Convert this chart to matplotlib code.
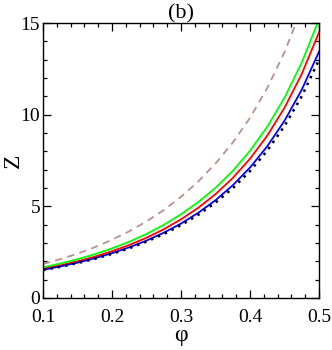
import matplotlib
matplotlib.use("Agg")
import matplotlib.pyplot as plt
from matplotlib.ticker import MultipleLocator

# Z(phi) curves
phi = [0.100, 0.125, 0.150, 0.175, 0.200, 0.225, 0.250, 0.275, 0.300,
       0.325, 0.350, 0.375, 0.400, 0.425, 0.450, 0.475, 0.500]

z_dotted = [1.521, 1.700, 1.904, 2.138, 2.406, 2.716, 3.074, 3.490, 3.974,
            4.540, 5.206, 5.992, 6.926, 8.042, 9.385, 11.012, 13.000]
z_blue = [1.536, 1.719, 1.928, 2.168, 2.445, 2.764, 3.132, 3.561, 4.061,
          4.647, 5.336, 6.151, 7.120, 8.279, 9.676, 11.370, 13.442]
z_red = [1.582, 1.776, 1.999, 2.255, 2.551, 2.893, 3.289, 3.751, 4.292,
         4.923, 5.668, 6.550, 7.601, 8.861, 10.382, 12.230, 14.495]
z_green = [1.673, 1.880, 2.118, 2.391, 2.707, 3.072, 3.497, 3.991, 4.570,
           5.232, 6.013, 6.936, 8.034, 9.349, 10.933, 12.856, 15.210]
# dashed curve leaves the frame before phi = 0.5
phi_dashed = phi[:16]
z_dashed = [1.856, 2.116, 2.418, 2.768, 3.176, 3.639, 4.181, 4.798, 5.524,
            6.356, 7.340, 8.479, 9.835, 11.460, 13.420, 15.802]

plt.rcParams['font.family'] = ['Liberation Serif', 'DejaVu Serif']

fig = plt.figure(figsize=(3.32, 3.5), dpi=100)
ax = fig.add_axes([0.1295, 0.1486, 0.8315, 0.7854])

ax.plot(phi_dashed, z_dashed, color='#bc8f8f', lw=1.3, dashes=(4, 3))
ax.plot(phi, z_green, color='#00ff00', lw=1.3)
ax.plot(phi, z_red, color='#ff0000', lw=1.3)
ax.plot(phi, z_blue, color='#0000ff', lw=1.3)
ax.plot(phi, z_dotted, color='black', lw=1.8, linestyle=(0, (1, 2)))

ax.set_xlim(0.1, 0.5)
ax.set_ylim(0, 15)
ax.xaxis.set_major_locator(MultipleLocator(0.1))
ax.xaxis.set_minor_locator(MultipleLocator(0.02))
ax.yaxis.set_major_locator(MultipleLocator(5))
ax.yaxis.set_minor_locator(MultipleLocator(1))
ax.set_xticks([0.1, 0.2, 0.3, 0.4, 0.5])
ax.set_xticklabels(['0.1', '0.2', '0.3', '0.4', '0.5'])

ax.tick_params(which='both', direction='in', top=True, right=True,
               labelsize=14, width=0.9)
ax.tick_params(axis='x', pad=8)
ax.tick_params(axis='y', pad=2)
ax.tick_params(which='major', length=6)
ax.tick_params(which='minor', length=3)
for s in ax.spines.values():
    s.set_linewidth(1.0)

ax.set_xlabel('φ', fontsize=17, labelpad=-1)
ax.set_ylabel('Z', fontsize=17)
ax.yaxis.set_label_coords(-0.07, 0.5)
ax.set_title('(b)', fontsize=16, pad=1)

fig.savefig('out.png', dpi=100)
